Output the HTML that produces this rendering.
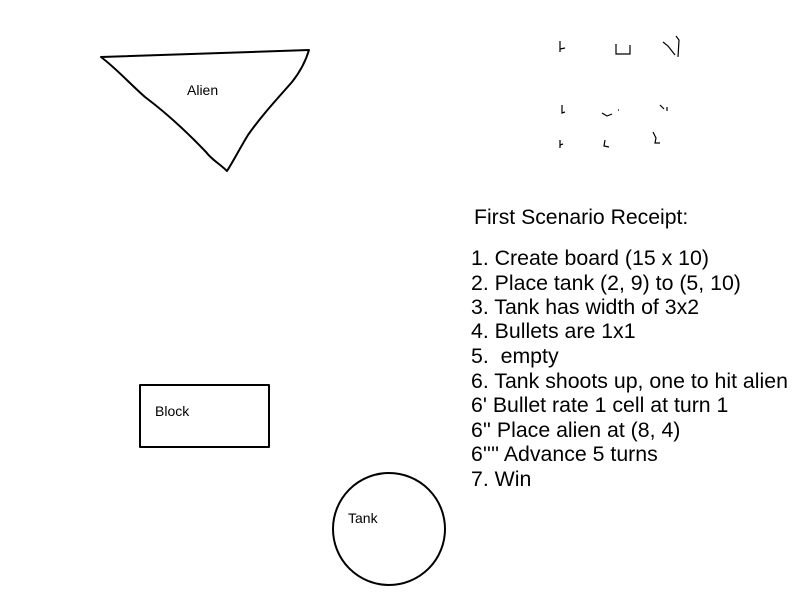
<!DOCTYPE html>
<html><head><meta charset="utf-8"><style>
html,body{margin:0;padding:0;background:#fff;width:800px;height:600px;overflow:hidden}
svg{display:block}
text{font-family:"Liberation Sans",sans-serif;fill:#000}
</style></head><body>
<svg width="800" height="600" viewBox="0 0 800 600" xmlns="http://www.w3.org/2000/svg">
<g fill="none" stroke="#000" stroke-width="2" stroke-linejoin="round">
<path d="M101,57 L309,50 C306,60 300,72 292,82 C278,98 262,115 248,135 C240,148 234,160 227,171 C220,164 212,160 206,152 C185,130 165,112 145,97 C130,84 118,70 101,57 Z"/>
<rect x="140" y="385" width="129" height="62"/>
<circle cx="389" cy="529" r="56"/>
</g>
<g fill="none" stroke="#000" stroke-width="1.2">
<path d="M560,41 L560,52 M560,49 L565,48"/>
<path d="M616,44 L616,54 L630,54 L630,45"/>
<path d="M663,42 L668,46 L675,55 M676,36 L679,40 L678,57"/>
<path d="M562,105 L562,113 L565,112"/>
<path d="M602,113 L607,116 L612,114 M618,110 L619,110"/>
<path d="M660,105 L664,109 M667,107 L667,111"/>
<path d="M560,140 L560,148 M560,145 L563,144"/>
<path d="M605,140 L604,146 L609,147"/>
<path d="M653,132 L656,138 L655,143 L660,143"/>
</g>
<text x="187" y="95" font-size="14">Alien</text>
<text x="155" y="416" font-size="14">Block</text>
<text x="348" y="523" font-size="14">Tank</text>
<text x="474" y="224" font-size="21.2">First Scenario Receipt:</text>
<g font-size="21.3">
<text x="471" y="265">1. Create board (15 x 10)</text>
<text x="471" y="290">2. Place tank (2, 9) to (5, 10)</text>
<text x="471" y="314">3. Tank has width of 3x2</text>
<text x="471" y="338">4. Bullets are 1x1</text>
<text x="471" y="363" xml:space="preserve">5.  empty</text>
<text x="471" y="388">6. Tank shoots up, one to hit alien</text>
<text x="471" y="412">6' Bullet rate 1 cell at turn 1</text>
<text x="471" y="437">6'' Place alien at (8, 4)</text>
<text x="471" y="461">6'''' Advance 5 turns</text>
<text x="471" y="486">7. Win</text>
</g>
</svg>
</body></html>
